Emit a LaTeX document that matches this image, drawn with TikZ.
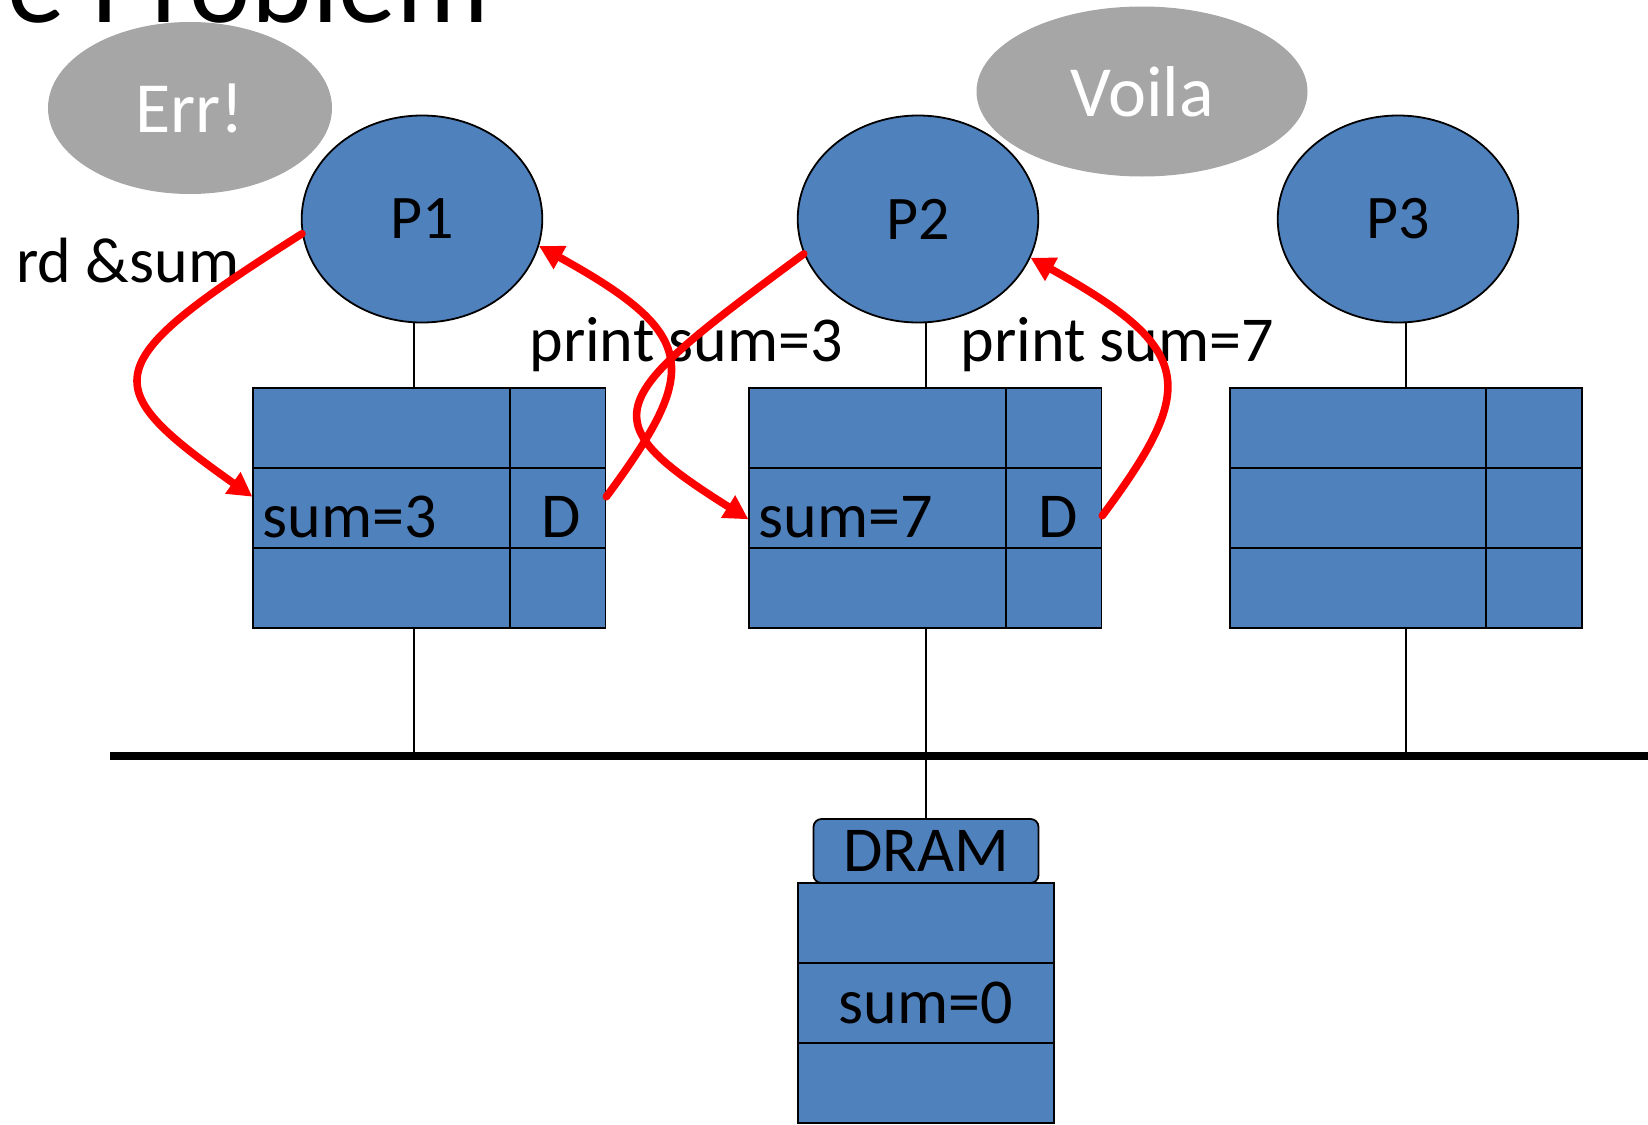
\documentclass[tikz,border=0pt]{standalone}
\usepackage{fontspec}
\setmainfont{Carlito}
\usetikzlibrary{shapes.geometric,arrows.meta,calc}
\definecolor{cellblue}{HTML}{4F81BD}
\definecolor{bubblegray}{HTML}{A6A6A6}
\definecolor{msgred}{HTML}{FF0000}
\begin{document}
\begin{tikzpicture}[x=0.5pt,y=-0.5pt,
  proc/.style={ellipse,draw=black,line width=0.9pt,fill=cellblue,minimum width=120.3pt,minimum height=103.5pt,inner sep=0pt,font=\fontsize{31}{31}\selectfont},
  bubble/.style={ellipse,fill=bubblegray,inner sep=0pt,text=white,font=\fontsize{36}{36}\selectfont},
  widecell/.style={rectangle,draw=black,line width=0.9pt,fill=cellblue,minimum width=128.25pt,minimum height=40pt,inner sep=0pt},
  narrowcell/.style={rectangle,draw=black,line width=0.9pt,fill=cellblue,minimum width=47.8pt,minimum height=40pt,inner sep=0pt},
  memcell/.style={rectangle,draw=black,line width=0.9pt,fill=cellblue,minimum width=128pt,minimum height=40pt,inner sep=0pt,font=\fontsize{32}{32}\selectfont},
  tag/.style={inner sep=0pt,font=\fontsize{32}{32}\selectfont},
  wire/.style={line width=0.9pt},
  busline/.style={line width=4pt},
  msg/.style={draw=msgred,line width=3.8pt,line cap=round,-{Triangle[length=12pt,width=12.5pt]}},
]
\useasboundingbox (0,0) rectangle (1648,1124);
\clip (0,0) rectangle (1648,1124);

% slide title, cut at the top
\node[inner sep=0pt,anchor=base west,font=\fontsize{58}{58}\selectfont] (title) at (7,23) {e Problem};

% speech bubbles
\node[bubble,minimum width=142pt,minimum height=86pt] (err) at (190,108) {Err!};
\node[bubble,minimum width=165.5pt,minimum height=85pt] (voila) at (1142,91.5) {Voila};

% processors
\node[proc] (P1) at (422,219) {P1};
\node[proc] (P2) at (918,219) {P2};
\node[proc] (P3) at (1398,219) {P3};

% caches: three rows of a data cell and a state cell
\foreach \i/\x in {1/253.3,2/749.3,3/1229.8}{
  \foreach \r/\y in {1/428,2/508,3/588}{
    \node[widecell] (c\i-w\r) at (\x+128.25,\y) {};
    \node[narrowcell] (c\i-n\r) at (\x+256.5+47.8,\y) {};
  }
}

% cache contents
\node[tag,anchor=base west] (s3) at (262,537) {sum=3};
\node[tag,anchor=base] (d1) at (561,537) {D};
\node[tag,anchor=base west] (s7) at (758,537) {sum=7};
\node[tag,anchor=base] (d2) at (1058,537) {D};

% bus and taps
\coordinate (busL) at (110,755.5);
\coordinate (busR) at (1648,755.5);
\coordinate (t1) at (414,0);
\coordinate (t2) at (926,0);
\coordinate (t3) at (1406,0);
\draw[busline] (busL) -- (busR);
\draw[wire] (P1.south -| t1) -- (c1-w1.north -| t1);
\draw[wire] (P2.south -| t2) -- (c2-w1.north -| t2);
\draw[wire] (P3.south -| t3) -- (c3-w1.north -| t3);
\draw[wire] (c1-w3.south -| t1) -- (busL -| t1);
\draw[wire] (c2-w3.south -| t2) -- (busL -| t2);
\draw[wire] (c3-w3.south -| t3) -- (busL -| t3);

% main memory
\node[rectangle,draw=black,line width=0.9pt,fill=cellblue,rounded corners=4pt,minimum width=112.5pt,minimum height=32pt,inner sep=0pt,font=\fontsize{32}{32}\selectfont] (dram) at (926,851) {DRAM};
\node[memcell] (m1) at (926,923) {};
\node[memcell] (m2) at (926,1003) {sum=0};
\node[memcell] (m3) at (926,1083) {};
\draw[wire] (busL -| dram) -- (dram.north);

% labels
\node[tag,anchor=base west] (rd) at (16,282) {rd \&sum};
\node[tag,anchor=base west] (pr3) at (529,361) {print sum=3};
\node[tag,anchor=base west] (pr7) at (960,361) {print sum=7};

% message arrows
\draw[msg] (P1.187) .. controls (95,365) and (95,385) .. (c1-w2.175);
\draw[msg] (c1-n2.13) .. controls (700,370) and (700,335) .. (P1.-13);
\draw[msg] (P2.197) .. controls (606,400) and (587,418) .. (c2-w2.185);
\draw[msg] (c2-n2.-9) .. controls (1197,388) and (1197,350) .. (P2.-19);
\end{tikzpicture}
\end{document}
